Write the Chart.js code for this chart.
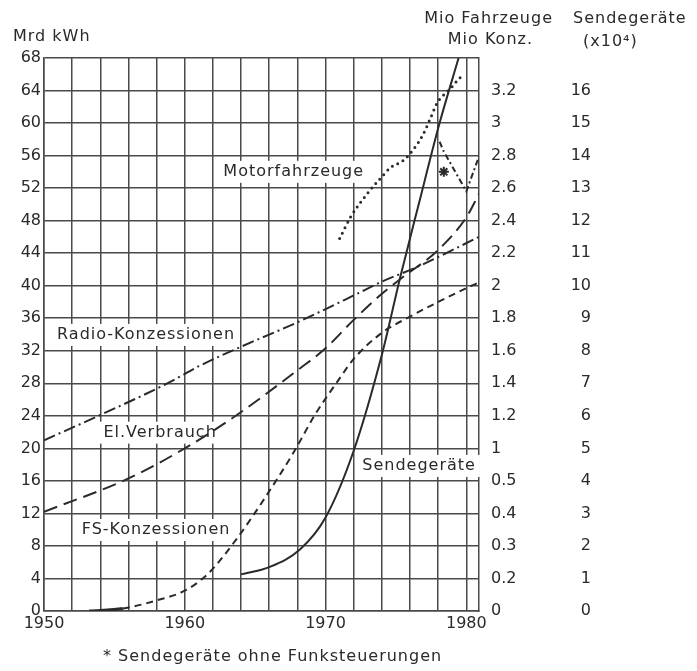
<!DOCTYPE html>
<html>
<head>
<meta charset="utf-8">
<script src="https://cdn.jsdelivr.net/npm/chart.js@4/dist/chart.umd.min.js"></script>
<style>
  html, body { margin: 0; padding: 0; background: #fff; }
  canvas { display: block; }
</style>
</head>
<body>
<canvas id="chart" width="697" height="671"></canvas>
<script>
// alle Werte in Einheiten des linken Gitters (0..68, 4 pro Linie)
const radioYears = [1950, 1954, 1959, 1961, 1964, 1968, 1972, 1974, 1976.5, 1980.9];
const radioValues = [21.0, 24.1, 28.2, 30.1, 32.5, 35.5, 38.8, 40.5, 42.3, 46.0];

const verbrauchYears = [1950, 1956, 1960, 1963.7, 1968, 1970, 1972, 1974, 1975.3, 1978, 1980, 1980.9];
const verbrauchValues = [12.2, 16.3, 20.0, 24.1, 29.6, 32.3, 35.8, 39.0, 40.8, 44.4, 48.4, 51.3];

const fsYears = [1953.2, 1955.6, 1958, 1960, 1961.6, 1963.7, 1965.8, 1967.8, 1969.2, 1971, 1972, 1974, 1976, 1978, 1980, 1980.9];
const fsValues = [0, 0.3, 1.3, 2.5, 4.5, 8.9, 14.2, 19.7, 24.0, 28.6, 31.0, 34.2, 36.2, 38.0, 39.7, 40.4];

const sendeYears = [1964, 1966, 1968.2, 1970, 1972, 1974, 1975.3, 1976.6, 1978.1, 1979.45];
const sendeValues = [4.5, 5.4, 7.6, 11.5, 19.7, 31.5, 41.0, 49.9, 60.0, 68.0];

const motorYears = [1971, 1971.8, 1973, 1973.9, 1974.6, 1975.6, 1976.3, 1976.9, 1977.5, 1977.9, 1978.3, 1978.8, 1979.4, 1979.8];
const motorValues = [45.8, 48.5, 51.4, 53.2, 54.5, 55.5, 56.9, 58.5, 60.8, 62.4, 63.3, 64.1, 65.3, 66.0];

const ohneFunkYears = [1978.1, 1978.4, 1980, 1980.9];
const ohneFunkValues = [57.7, 56.5, 51.6, 55.9];

const starYears = [1978.4];
const starValues = [54.0];

// Achsbeschriftungen
const kwhLabels = ['0', '4', '8', '12', '16', '20', '24', '28', '32', '36', '40', '44', '48', '52', '56', '60', '64', '68'];
const konzLabels = ['0', '0.2', '0.3', '0.4', '0.5', '1', '1.2', '1.4', '1.6', '1.8', '2', '2.2', '2.4', '2.6', '2.8', '3', '3.2', ''];
const sendeLabels = ['0', '1', '2', '3', '4', '5', '6', '7', '8', '9', '10', '11', '12', '13', '14', '15', '16', ''];
const yearLabels = [1950, 1960, 1970, 1980];

const labelSpots = [
  {text: 'Motorfahrzeuge', year: 1962.74, value: 54.0},
  {text: 'Radio-Konzessionen', year: 1950.93, value: 33.95},
  {text: 'El.Verbrauch', year: 1954.22, value: 21.93},
  {text: 'FS-Konzessionen', year: 1952.68, value: 9.96},
  {text: 'Sendegeräte', year: 1972.61, value: 17.84}
];

const INK = '#2a2a2a';
const GRID = '#4a4a4a';
const FONT = '"DejaVu Sans", sans-serif';

const points = (xs, ys) => xs.map((x, i) => ({x: x, y: ys[i]}));

function line(data, dash, extra) {
  return Object.assign({
    data: data,
    borderColor: INK,
    borderWidth: 2,
    borderDash: dash,
    pointRadius: 0,
    fill: false,
    cubicInterpolationMode: 'monotone'
  }, extra || {});
}

const labelPlugin = {
  id: 'labelPlugin',
  beforeDatasetsDraw(chart) {
    const {ctx, scales: {x, y}} = chart;
    ctx.save();
    ctx.font = '16px ' + FONT;
    ctx.letterSpacing = '1px';
    ctx.textBaseline = 'middle';
    labelSpots.forEach(l => {
      const px = x.getPixelForValue(l.year);
      const py = y.getPixelForValue(l.value);
      const w = ctx.measureText(l.text).width;
      ctx.fillStyle = '#fff';
      ctx.fillRect(px - 4, py - 11, w + 8, 22);
      ctx.fillStyle = INK;
      ctx.fillText(l.text, px, py);
    });
    ctx.restore();
  },
  afterDraw(chart) {
    const {ctx, chartArea} = chart;
    ctx.save();
    ctx.font = '16px ' + FONT;
    ctx.letterSpacing = '1px';
    ctx.textBaseline = 'middle';
    ctx.fillStyle = INK;
    ctx.textAlign = 'left';
    ctx.fillText('Mrd kWh', 13, chartArea.top - 21);
    ctx.textAlign = 'right';
    ctx.fillText('Mio Fahrzeuge', 553, 19);
    ctx.fillText('Mio Konz.', 533, 40);
    ctx.textAlign = 'left';
    ctx.fillText('Sendegeräte', 573, 19);
    ctx.fillText('(x10⁴)', 583, 42);
    ctx.fillText('* Sendegeräte ohne Funksteuerungen', 103, 657);
    ctx.restore();
  }
};

new Chart(document.getElementById('chart'), {
  type: 'line',
  data: {
    datasets: [
      line(points(radioYears, radioValues), [12, 4, 2, 4]),
      line(points(verbrauchYears, verbrauchValues), [14, 7]),
      line(points(fsYears, fsValues), [7, 5], {
        segment: {
          borderDash: ctx => ctx.p0.parsed.x < 1955 ? [] : [7, 5],
          borderWidth: ctx => ctx.p0.parsed.x < 1955 ? 3 : 2
        }
      }),
      line(points(sendeYears, sendeValues), []),
      line(points(motorYears, motorValues), [0, 6], {borderWidth: 3, borderCapStyle: 'round'}),
      line(points(ohneFunkYears, ohneFunkValues), [6, 3, 2, 3], {cubicInterpolationMode: 'default', tension: 0}),
      {
        type: 'scatter',
        data: points(starYears, starValues),
        pointStyle: 'star',
        pointRadius: 5,
        borderColor: INK,
        borderWidth: 2,
        showLine: false
      }
    ]
  },
  options: {
    responsive: false,
    animation: false,
    layout: {padding: {top: 58, left: 0, right: 106, bottom: 0}},
    plugins: {legend: {display: false}, tooltip: {enabled: false}},
    scales: {
      x: {
        type: 'linear',
        min: 1950,
        max: 1980.9,
        afterFit: s => { s.height = 60; },
        grid: {color: GRID, lineWidth: 1.5, drawTicks: false},
        border: {color: GRID, width: 1.5},
        ticks: {
          stepSize: 2,
          includeBounds: false,
          autoSkip: false,
          maxRotation: 0,
          padding: 3,
          color: INK,
          font: {family: FONT, size: 16},
          callback: v => yearLabels.includes(v) ? String(v) : ''
        }
      },
      y: {
        position: 'left',
        min: 0,
        max: 68,
        afterFit: s => { s.width = 44; },
        grid: {color: GRID, lineWidth: 1.5, drawTicks: false},
        border: {color: GRID, width: 1.5},
        ticks: {
          stepSize: 4,
          padding: 3,
          color: INK,
          font: {family: FONT, size: 16},
          callback: (v, i) => kwhLabels[i]
        }
      },
      y1: {
        position: 'right',
        weight: 0,
        min: 0,
        max: 68,
        afterFit: s => { s.width = 80; },
        grid: {display: false, drawTicks: false},
        border: {color: GRID, width: 1.5},
        ticks: {
          stepSize: 4,
          padding: 12,
          color: INK,
          font: {family: FONT, size: 16},
          callback: (v, i) => konzLabels[i]
        }
      },
      y2: {
        position: 'right',
        weight: 1,
        min: 0,
        max: 68,
        afterFit: s => { s.width = 32; },
        grid: {display: false, drawTicks: false},
        border: {display: false},
        ticks: {
          stepSize: 4,
          padding: 0,
          crossAlign: 'far',
          color: INK,
          font: {family: FONT, size: 16},
          callback: (v, i) => sendeLabels[i]
        }
      }
    }
  },
  plugins: [labelPlugin]
});
</script>
</body>
</html>
